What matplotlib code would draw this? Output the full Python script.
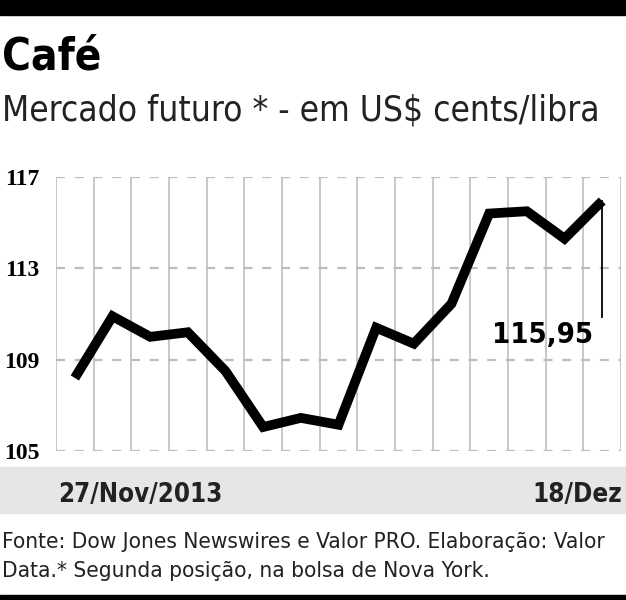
import numpy as np
import matplotlib
matplotlib.use("Agg")
import matplotlib.pyplot as plt
from matplotlib.patches import Rectangle

# data
days = list(range(15))
values = [108.2, 110.9, 110.0, 110.2, 108.5, 106.05, 106.45, 106.15,
          110.4, 109.7, 111.45, 115.4, 115.5, 114.3, 115.95]
yticks = [105, 109, 113, 117]
first_label = "27/Nov/2013"
last_label = "18/Dez"
last_value_label = "115,95"

W, H = 626, 600
plt.rcParams['lines.scale_dashes'] = False
narrow = ['DejaVu Sans']

fig = plt.figure(figsize=(W / 100, H / 100), dpi=100)
fig.patch.set_facecolor('white')

def fx(px):
    return px / W

def fy(py):
    return 1 - py / H

# top and bottom black bars, gray band under the chart
fig.patches.append(Rectangle((0, fy(15)), 1, 15 / H, transform=fig.transFigure,
                             color='black', zorder=0))
fig.patches.append(Rectangle((0, 0), 1, 5 / H, transform=fig.transFigure,
                             color='black', zorder=0))
fig.patches.append(Rectangle((0, fy(513)), 1, 46 / H, transform=fig.transFigure,
                             color='#e6e6e6', zorder=0))

fig.text(fx(2), fy(69), "Café", fontsize=31.5, fontweight='heavy', fontstretch='condensed',
         family=narrow, va='baseline', ha='left')
fig.text(fx(2), fy(120), "Mercado futuro * - em US$ cents/libra", fontsize=25.3,
         fontstretch='condensed', family=narrow, va='baseline', ha='left', color='#222222')

ax = fig.add_axes([fx(56), fy(451), fx(621) - fx(56), (451 - 177) / H])
ax.set_xlim(-0.5, len(days) - 0.5)
ax.set_ylim(105, 117)
ax.set_facecolor('none')
for s in ax.spines.values():
    s.set_visible(False)

for b in np.arange(-0.5, len(days), 1.0):
    ax.axvline(b, color='#c4c4c4', lw=1.3, zorder=1)
for t in yticks:
    ax.axhline(t, color='#bdbdbd', lw=1.6, dashes=(6.5, 7), zorder=1)

ax.plot(days, values, color='black', lw=7, solid_joinstyle='miter',
        solid_capstyle='butt', zorder=3, clip_on=False)

# callout for last value
ax.plot([days[-1], days[-1]], [values[-1], 110.87], color='black', lw=1.3, zorder=2)
ax.text(days[-1] - 0.24, 109.73, last_value_label, fontsize=21, fontweight='bold',
        fontstretch='condensed', family=narrow, ha='right', va='baseline')

ax.set_xticks([])
ax.set_yticks(yticks)
ax.set_yticklabels([str(t) for t in yticks], fontsize=17, fontweight='bold',
                   family=['Liberation Serif', 'DejaVu Serif'])
ax.tick_params(axis='y', length=0, pad=12)

fig.text(fx(58), fy(502), first_label, fontsize=18.5, fontweight='bold', fontstretch='condensed',
         family=narrow, ha='left', va='baseline', color='#222222')
fig.text(fx(622), fy(502), last_label, fontsize=18.6, fontweight='bold', fontstretch='condensed',
         family=narrow, ha='right', va='baseline', color='#222222')

fig.text(fx(2), fy(548), "Fonte: Dow Jones Newswires e Valor PRO. Elaboração: Valor",
         fontsize=16.2, fontstretch='condensed', family=narrow, ha='left', va='baseline',
         color='#222222')
fig.text(fx(2), fy(577), "Data.* Segunda posição, na bolsa de Nova York.",
         fontsize=16.2, fontstretch='condensed', family=narrow, ha='left', va='baseline',
         color='#222222')

fig.savefig("out.png", dpi=100)
